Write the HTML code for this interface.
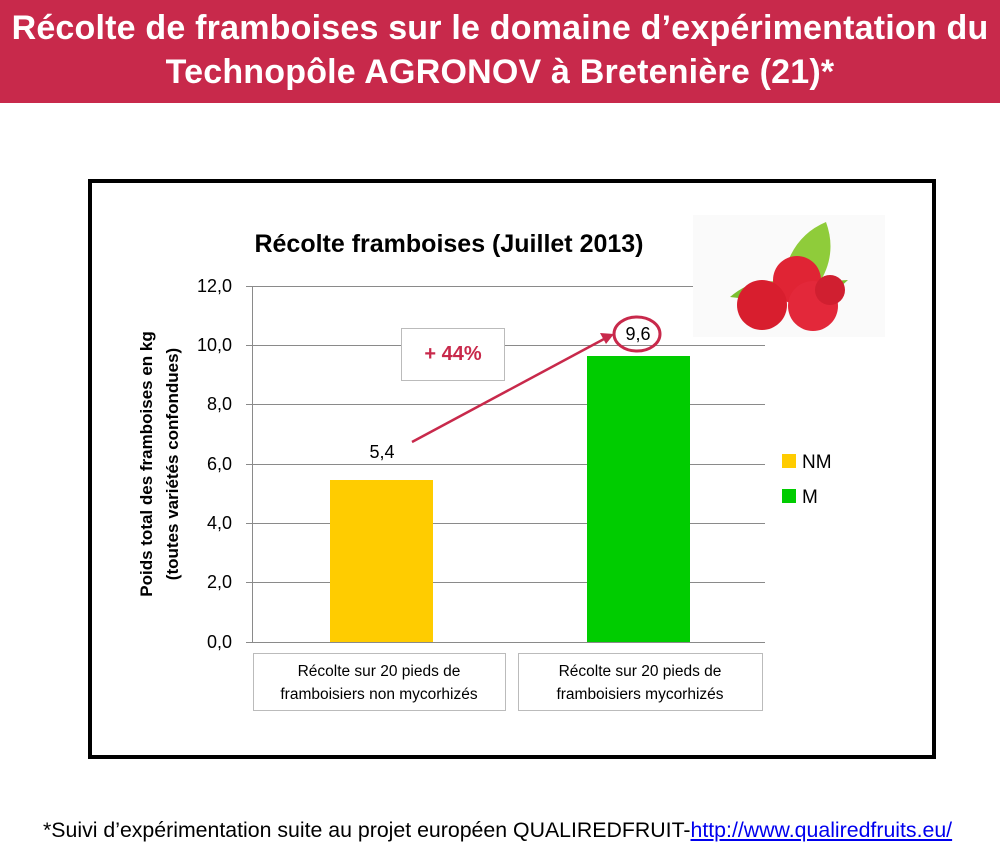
<!DOCTYPE html><html><head><meta charset="utf-8"><style>
body{margin:0;width:1000px;height:850px;background:#fff;overflow:hidden;font-family:"Liberation Sans","DejaVu Sans",sans-serif}
.hd{position:absolute;left:0;top:0;width:1000px;height:103px;background:#c8294b;color:#fff;font-weight:bold;font-size:34px;text-align:center;line-height:44px;padding-top:6px;box-sizing:border-box;white-space:nowrap;letter-spacing:0.2px}
</style></head><body>
<div class="hd">Récolte de framboises sur le domaine d’expérimentation du<br>Technopôle AGRONOV à Bretenière (21)*</div>
<svg width="1000" height="850" style="position:absolute;left:0;top:0" font-family="Liberation Sans, DejaVu Sans, sans-serif">
<rect x="90" y="181" width="844" height="576" fill="none" stroke="#000" stroke-width="4"/>
<text x="449" y="252" font-size="25" font-weight="bold" text-anchor="middle">Récolte framboises (Juillet 2013)</text>
<g stroke="#8a8a8a" stroke-width="1">
<line x1="246" y1="286.5" x2="765" y2="286.5"/><line x1="246" y1="345.5" x2="765" y2="345.5"/>
<line x1="246" y1="404.5" x2="765" y2="404.5"/><line x1="246" y1="464.5" x2="765" y2="464.5"/>
<line x1="246" y1="523.5" x2="765" y2="523.5"/><line x1="246" y1="582.5" x2="765" y2="582.5"/>
<line x1="246" y1="642.5" x2="765" y2="642.5"/><line x1="252.5" y1="286" x2="252.5" y2="642"/>
</g>
<g font-size="18" text-anchor="end">
<text x="232" y="292">12,0</text><text x="232" y="351">10,0</text><text x="232" y="410">8,0</text>
<text x="232" y="470">6,0</text><text x="232" y="529">4,0</text><text x="232" y="588">2,0</text><text x="232" y="648">0,0</text>
</g>
<text transform="translate(152,464) rotate(-90)" font-size="17" font-weight="bold" text-anchor="middle">Poids total des framboises  en kg</text>
<text transform="translate(178,464) rotate(-90)" font-size="17" font-weight="bold" text-anchor="middle">(toutes variétés confondues)</text>
<rect x="330" y="480" width="103" height="162" fill="#ffcc00"/>
<rect x="587" y="356" width="103" height="286" fill="#00cc00"/>
<text x="382" y="458" font-size="18" text-anchor="middle">5,4</text>
<text x="638" y="340" font-size="18" text-anchor="middle">9,6</text>
<ellipse cx="637" cy="334" rx="23" ry="17" fill="none" stroke="#c8294b" stroke-width="3"/>
<rect x="401.5" y="328.5" width="103" height="52" fill="#fff" stroke="#bbb"/>
<text x="453" y="360" font-size="20" font-weight="bold" fill="#c8294b" text-anchor="middle">+ 44%</text>
<line x1="412" y1="442" x2="604" y2="339" stroke="#c8294b" stroke-width="2.5"/>
<polygon points="614,334 600,333 606,344" fill="#c8294b"/>
<rect x="253.5" y="653.5" width="252" height="57" fill="#fff" stroke="#bbb"/>
<rect x="518.5" y="653.5" width="244" height="57" fill="#fff" stroke="#bbb"/>
<g font-size="15.5" text-anchor="middle">
<text x="379" y="676">Récolte sur 20 pieds de</text><text x="379" y="699">framboisiers non mycorhizés</text>
<text x="640" y="676">Récolte sur 20 pieds de</text><text x="640" y="699">framboisiers mycorhizés</text>
</g>
<rect x="782" y="454" width="14" height="14" fill="#ffcc00"/><text x="802" y="468" font-size="19">NM</text>
<rect x="782" y="489" width="14" height="14" fill="#00cc00"/><text x="802" y="503" font-size="19">M</text>
<rect x="693" y="215" width="192" height="122" fill="#fafafa"/>
<path d="M785 270 Q795 235 826 222 Q838 255 818 285 Z" fill="#8fcc3a"/>
<path d="M730 297 Q752 278 778 282 L772 302 Z" fill="#7bbf30"/>
<path d="M812 282 L848 280 L828 298 Z" fill="#7bbf30"/>
<circle cx="797" cy="280" r="24" fill="#e02434"/>
<circle cx="762" cy="305" r="25" fill="#d81e2e"/>
<circle cx="813" cy="306" r="25" fill="#e3283a"/>
<circle cx="830" cy="290" r="15" fill="#d01f30"/>
</svg>
<div style="position:absolute;left:43px;top:818px;font-size:21.3px;color:#000;white-space:nowrap;font-family:'Liberation Sans','DejaVu Sans',sans-serif">*Suivi d’expérimentation suite au projet européen QUALIREDFRUIT-<span style="color:#0000ee;text-decoration:underline">http://www.qualiredfruits.eu/</span></div>
</body></html>
